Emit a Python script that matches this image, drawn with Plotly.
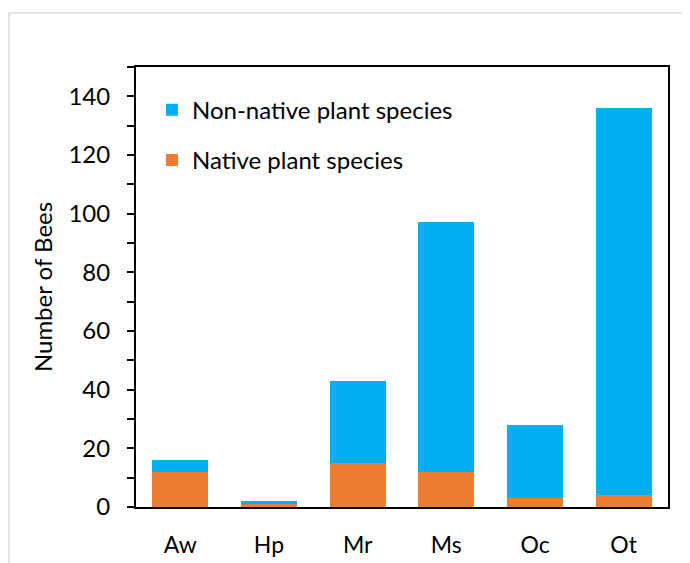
import plotly.graph_objects as go

categories = ["Aw", "Hp", "Mr", "Ms", "Oc", "Ot"]
native = [12, 1, 15, 12, 3, 4]
non_native = [4, 1, 28, 85, 25, 132]
y_ticks = [0, 20, 40, 60, 80, 100, 120, 140]

W, H = 690, 563
L, R, T, B = 128, 30, 59, 64
pw, ph = W - L - R, H - T - B

fig = go.Figure()
fig.add_trace(go.Bar(x=categories, y=native, name="Native plant species",
                     marker=dict(color="#ED7D31", line=dict(width=0)),
                     legendgroup="a", legendrank=2))
fig.add_trace(go.Bar(x=categories, y=non_native, name="Non-native plant species",
                     marker=dict(color="#00B0F0", line=dict(width=0)),
                     legendgroup="b", legendrank=1))

font = "Lato, Calibri, Carlito, sans-serif"

# light gray outer frame
x0 = (1 - L) / pw
y0 = 1 + (T - 5) / ph
fig.add_shape(type="line", xref="paper", yref="paper", x0=x0, x1=x0, y0=y0, y1=-0.3,
              line=dict(color="#D9D9D9", width=1.5))
fig.add_shape(type="line", xref="paper", yref="paper", x0=x0, x1=1.2, y0=y0, y1=y0,
              line=dict(color="#D9D9D9", width=1.5))

fig.update_layout(
    width=W, height=H,
    margin=dict(l=L, r=R, t=T, b=B),
    barmode="stack",
    bargap=0.37,
    plot_bgcolor="white",
    paper_bgcolor="white",
    font=dict(family=font, size=23, color="#000000"),
    legend=dict(x=0.03, y=0.953, xanchor="left", yanchor="top",
                traceorder="grouped", tracegroupgap=16,
                font=dict(size=24), bgcolor="rgba(0,0,0,0)"),
    xaxis=dict(showline=True, linecolor="black", linewidth=2, mirror=True,
               ticks="", showgrid=False, tickfont=dict(size=23),
               ticklabelstandoff=16),
    yaxis=dict(range=[0, 150], tickvals=y_ticks, showline=True, linecolor="black",
               linewidth=2, mirror=True, ticks="outside", ticklen=7, tickwidth=2,
               tickcolor="black", showgrid=False, zeroline=False,
               ticklabelstandoff=12,
               minor=dict(dtick=10, ticks="outside", ticklen=7, tickwidth=1.5,
                          tickcolor="black", showgrid=False),
               title=dict(text="Number of Bees", font=dict(size=24), standoff=9),
               tickfont=dict(size=24)),
)

fig.write_html("out.html")
